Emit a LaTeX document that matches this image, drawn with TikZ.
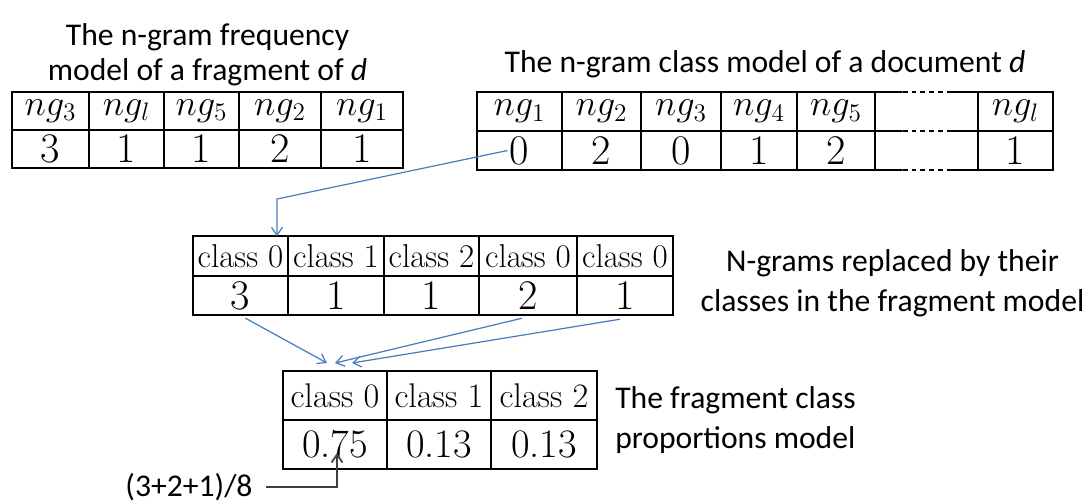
\documentclass[tikz,border=0pt]{standalone}
\usepackage{fontspec}
\newfontfamily\labelfont{Carlito}
\usetikzlibrary{positioning, calc, arrows.meta}
\definecolor{linkblue}{HTML}{4A7EBB}
\definecolor{notegray}{HTML}{404040}
\tikzset{
  > = {Straight Barb[length = 1.6mm, width = 2.2mm]},
  row height/.style = {minimum height = 0.76cm},
  headfont/.style = {font = \fontsize{22}{24}\selectfont},
  valfont/.style = {font = \fontsize{24}{26}\selectfont},
  cell/.style = {draw, line width = 1.1pt, inner sep = 0, outer sep = 0, row height},
  gapline/.style = {dash pattern = on 2.8pt off 2.2pt},
  modeltitle/.style = {font = \labelfont\fontsize{18}{20}\selectfont, align = center, inner sep = 0},
  link/.style = {->, draw = linkblue, line width = 0.7pt},
  note/.style = {->, draw = notegray, line width = 1pt}
}
\newcommand {\tabcol} [6] [] {
  \node [cell, headfont, minimum width = #4, #1] (#2h) #3 {#5};
  \node [cell, valfont, minimum width = #4, #1] (#2v) [below = 0pt of #2h] {#6};
}

\begin{document}
\begin{tikzpicture} [x = 0.02cm, y = -0.02cm]
\useasboundingbox (0,0) rectangle (1091,500);

%% Fragment model
\node [modeltitle, font = \labelfont\fontsize{18}{19.9}\selectfont] (fragtitle) at (207.5,55)
  {The n-gram frequency\\model of a fragment of \textit{d}};
\tabcol{f1}{at (50.5,111)}{1.54cm}{$ng_3$}{3}
\tabcol{f2}{[right = 0pt of f1h]}{1.5cm}{$ng_l$}{1}
\tabcol{f3}{[right = 0pt of f2h]}{1.5cm}{$ng_5$}{1}
\tabcol{f4}{[right = 0pt of f3h]}{1.64cm}{$ng_2$}{2}
\tabcol{f5}{[right = 0pt of f4h]}{1.64cm}{$ng_1$}{1}

%% Document model
\node [modeltitle] (doctitle) at (765,64) {The n-gram class model of a document \textit{d}};
\begin{scope} [row height/.style = {minimum height = 0.78cm}]
\tabcol{d1}{at (519.5,111.5)}{1.7cm}{$ng_1$}{0}
\tabcol{d2}{[right = 0pt of d1h]}{1.58cm}{$ng_2$}{2}
\tabcol{d3}{[right = 0pt of d2h]}{1.6cm}{$ng_3$}{0}
\tabcol{d4}{[right = 0pt of d3h]}{1.52cm}{$ng_4$}{1}
\tabcol{d5}{[right = 0pt of d4h]}{1.56cm}{$ng_5$}{2}
\tabcol[draw = none]{d6}{[right = 0pt of d5h]}{2.06cm}{}{}
\tabcol{d7}{[right = 0pt of d6h]}{1.5cm}{$ng_l$}{1}
\end{scope}

%% Gap column
\draw [line width = 1.1pt] (d6h.north west) -- ($(d6h.north west)!0.27!(d6h.north east)$)
  ($(d6h.north west)!0.7!(d6h.north east)$) -- (d6h.north east)
  ($(d6h.north west)!0.27!(d6h.north east)$) edge [gapline] ($(d6h.north west)!0.7!(d6h.north east)$);
\draw [line width = 1.1pt] (d6h.south west) -- ($(d6h.south west)!0.27!(d6h.south east)$)
  ($(d6h.south west)!0.7!(d6h.south east)$) -- (d6h.south east)
  ($(d6h.south west)!0.27!(d6h.south east)$) edge [gapline] ($(d6h.south west)!0.7!(d6h.south east)$);
\draw [line width = 1.1pt] (d6v.south west) -- ($(d6v.south west)!0.27!(d6v.south east)$)
  ($(d6v.south west)!0.7!(d6v.south east)$) -- (d6v.south east)
  ($(d6v.south west)!0.27!(d6v.south east)$) edge [gapline] ($(d6v.south west)!0.7!(d6v.south east)$);

%% Classes in the fragment
\begin{scope} [row height/.style = {minimum height = 0.79cm},
  headfont/.style = {font = \fontsize{18.8}{20}\selectfont}]
\tabcol{m1}{at (240.5,256)}{1.9cm}{class 0}{3}
\tabcol{m2}{[right = 0pt of m1h]}{1.92cm}{class 1}{1}
\tabcol{m3}{[right = 0pt of m2h]}{1.9cm}{class 2}{1}
\tabcol{m4}{[right = 0pt of m3h]}{1.96cm}{class 0}{2}
\tabcol{m5}{[right = 0pt of m4h]}{1.92cm}{class 0}{1}
\end{scope}
\node [modeltitle, font = \labelfont\fontsize{18}{22.8}\selectfont] (classtitle) at (892.5,283)
  {N-grams replaced by their\\classes in the fragment model};

%% Class proportions
\begin{scope} [row height/.style = {minimum height = 0.98cm},
  headfont/.style = {font = \fontsize{19.5}{21}\selectfont},
  valfont/.style = {font = \fontsize{23}{25}\selectfont}]
\tabcol{b1}{at (335,395.5)}{2.08cm}{class 0}{0.75}
\tabcol{b2}{[right = 0pt of b1h]}{2.08cm}{class 1}{0.13}
\tabcol{b3}{[right = 0pt of b2h]}{2.12cm}{class 2}{0.13}
\end{scope}
\node [modeltitle, align = left, font = \labelfont\fontsize{18}{23}\selectfont] (proptitle)
  [right = 0.36cm of b3h.south east] {The fragment class\\proportions model};
\node [modeltitle] (sum) at (189,487) {(3+2+1)/8};

%% Arrows
\coordinate (turn) at (277,199);
\draw [link] ([xshift = -0.24cm] d1v.center) -- (turn) -- (turn |- m1h.north);
\draw [link] ([xshift = 0.1cm, yshift = -0.06cm] m1v.south) -- ([xshift = -0.16cm, yshift = 0.16cm] b1h.north);
\draw [link] ([xshift = -0.12cm, yshift = -0.06cm] m4v.south) -- ([yshift = 0.16cm] b1h.north);
\draw [link] ([xshift = -0.1cm, yshift = -0.08cm] m5v.south) -- ([xshift = 0.34cm, yshift = 0.16cm] b1h.north);
\draw [note, shorten < = 0.26cm] (sum.east) -| ([xshift = 0.04cm, yshift = 0.32cm] b1v.south);

\end{tikzpicture}
\end{document}
